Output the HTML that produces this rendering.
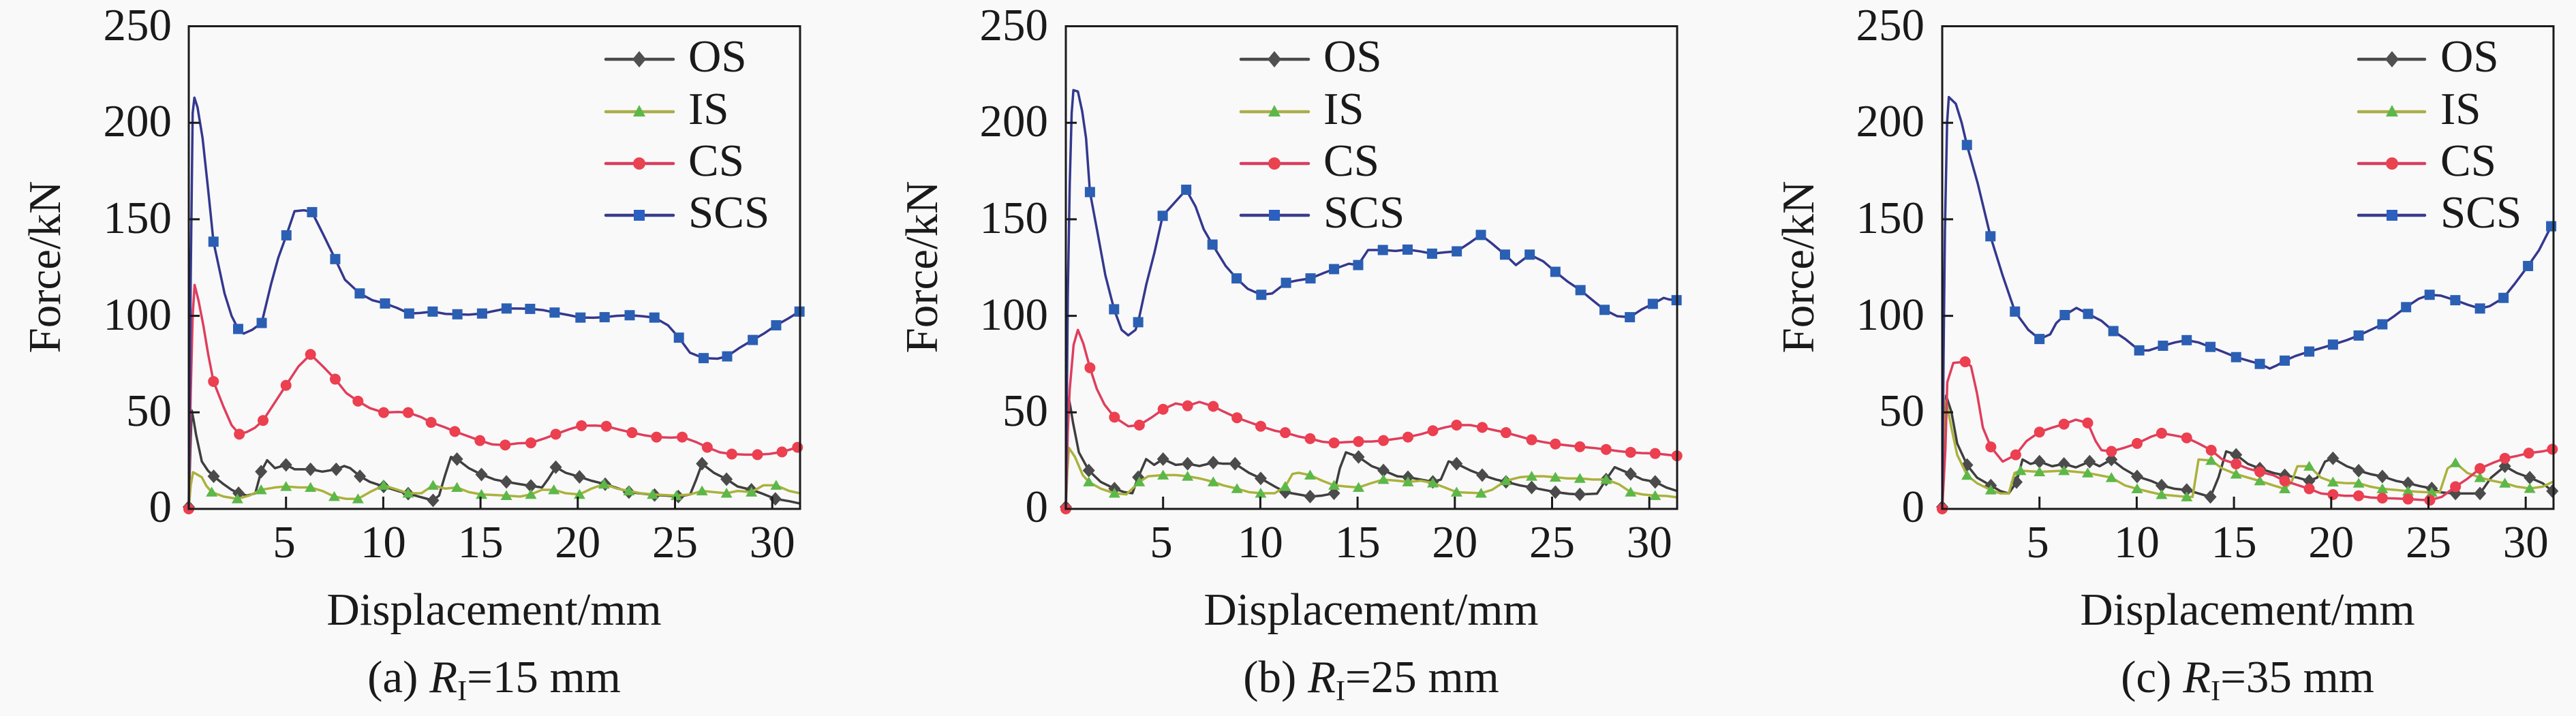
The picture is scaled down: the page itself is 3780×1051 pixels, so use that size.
<!DOCTYPE html>
<html><head><meta charset="utf-8"><style>
html,body{margin:0;padding:0;background:#f9f9f9;}
svg{display:block;}
text{font-family:"Liberation Serif","Times New Roman",serif;fill:#1a1a1a;}
.s{vector-effect:non-scaling-stroke;fill:none;stroke-width:3.5;stroke-linejoin:round;stroke-linecap:round;}
.m{fill:none;stroke:none;}
.os{stroke:#3e3e3e;} .is{stroke:#aab23c;} .cs{stroke:#df3e5c;} .scs{stroke:#34388e;}
.mo{marker-start:url(#mD);marker-mid:url(#mD);marker-end:url(#mD);}
.mi{marker-start:url(#mT);marker-mid:url(#mT);marker-end:url(#mT);}
.mc{marker-start:url(#mC);marker-mid:url(#mC);marker-end:url(#mC);}
.ms{marker-start:url(#mS);marker-mid:url(#mS);marker-end:url(#mS);}
</style></head><body>
<svg width="3780" height="1051" viewBox="0 0 3780 1051" xmlns="http://www.w3.org/2000/svg">
<defs>
<marker id="mD" viewBox="-10 -10 20 20" markerUnits="userSpaceOnUse" markerWidth="0.7008" markerHeight="7.057" refX="0" refY="0" preserveAspectRatio="none"><path d="M0,10 L9,0 L0,-10 L-9,0Z" fill="#4b4b4b"/></marker>
<marker id="mT" viewBox="-10 -10 20 20" markerUnits="userSpaceOnUse" markerWidth="0.7008" markerHeight="7.057" refX="0" refY="0" preserveAspectRatio="none"><path d="M0,8 L8.5,-6.5 L-8.5,-6.5Z" fill="#5cb848"/></marker>
<marker id="mC" viewBox="-10 -10 20 20" markerUnits="userSpaceOnUse" markerWidth="0.7008" markerHeight="7.057" refX="0" refY="0" preserveAspectRatio="none"><circle r="8" fill="#ec3f4f"/></marker>
<marker id="mS" viewBox="-10 -10 20 20" markerUnits="userSpaceOnUse" markerWidth="0.7008" markerHeight="7.057" refX="0" refY="0" preserveAspectRatio="none"><rect x="-7.5" y="-7.5" width="15" height="15" fill="#2b5fb4"/></marker>
</defs>
<rect width="3780" height="1051" fill="#f9f9f9"/>

<!-- ================= PANEL A ================= -->
<g transform="translate(277,747) scale(28.54,-2.834)">
<polyline class="s os" points="0,0 0.08,30 0.15,51 0.25,46 0.37,38.7 0.67,24.6 0.98,19.9 1.28,16.9 1.79,12.8 2.2,9.9 2.56,8.1 3.0,6.9 3.42,8.1 3.72,19.3 4.03,25.2 4.43,21.1 5.0,22.8 5.45,20.5 6.26,20.5 6.87,19.3 7.58,20.5 7.99,22.2 8.3,21.1 8.8,16.9 9.31,14.0 10.02,11.6 10.74,9.3 11.28,7.9 11.96,6.0 12.56,4.4 12.87,6.9 13.18,17.5 13.48,26.9 13.79,25.8 14.4,21.1 15.05,17.8 15.72,15.2 16.33,14.0 17.04,12.8 17.59,11.9 18.16,11.1 18.46,15.2 18.87,21.6 19.38,18.7 20.09,16.6 20.7,14.6 21.41,12.8 22.12,10.5 22.63,8.7 23.34,7.9 23.95,7.2 24.56,6.9 25.17,6.4 25.78,7.5 26.09,15.2 26.39,23.4 27.0,18.7 27.65,15.4 28.22,11.6 28.93,9.9 29.44,8.1 30.16,5.2 30.87,4.0 31.42,2.8"/>
<polyline class="m mo" points="0,1 1.28,16.9 2.56,8.1 3.72,19.3 5.0,22.8 6.26,20.5 7.58,20.5 8.8,16.9 10.02,11.6 11.28,7.9 12.56,4.4 13.79,25.8 15.05,17.8 16.33,14.0 17.59,11.9 18.87,21.6 20.09,16.6 21.41,12.8 22.63,8.7 23.95,7.2 25.17,6.4 26.39,23.4 27.65,15.4 28.93,9.9 30.16,5.2"/>
<polyline class="s is" points="0,0 0.1,12 0.22,19 0.4,18 0.67,16.4 0.9,12 1.18,8.7 1.79,6.4 2.5,5.2 3.11,6.9 3.72,9.9 4.43,11.1 5.0,11.6 5.65,11.1 6.26,11.1 6.87,9.3 7.48,6.4 8.09,5.2 8.7,5.2 9.31,8.7 10.02,12.2 10.74,9.9 11.28,8.1 11.96,8.1 12.56,12.2 13.18,10.5 13.79,11.1 14.4,8.7 15.05,7.5 15.72,7.2 16.33,6.9 17.04,6.4 17.59,7.5 18.16,9.9 18.77,9.9 19.38,8.1 20.09,7.5 20.7,10.5 21.35,12.8 22.02,10.5 22.63,9.3 23.24,8.1 23.85,7.5 24.46,7.2 25.07,6.9 25.78,7.5 26.39,9.3 27.0,8.7 27.65,8.1 28.22,9.3 28.93,8.7 29.54,12.2 30.2,12.2 30.87,9.3 31.42,8.1"/>
<polyline class="m mi" points="1.18,8.7 2.5,5.2 3.72,9.9 5.0,11.6 6.26,11.1 7.48,6.4 8.7,5.2 10.02,12.2 11.28,8.1 12.56,12.2 13.79,11.1 15.05,7.5 16.33,6.9 17.59,7.5 18.77,9.9 20.09,7.5 21.35,12.8 22.63,9.3 23.85,7.5 25.07,6.9 26.39,9.3 27.65,8.1 28.93,8.7 30.2,12.2"/>
<polyline class="s cs" points="0,0 0.1,60 0.2,100 0.3,116 0.5,108 0.75,95 1.0,80 1.27,66 1.79,52.8 2.2,43.4 2.6,38.7 3.0,39.9 3.4,42 3.82,45.8 4.43,55.2 5.0,64 5.64,73.8 6.26,80 6.9,73.8 7.53,67.2 8.1,60 8.70,55.8 9.31,52.2 10.02,49.9 10.74,50.2 11.28,49.9 11.96,47.5 12.46,44.8 13.18,42.2 13.68,40.1 14.4,37.5 14.97,35.4 15.6,33.4 16.27,33.1 16.94,34.0 17.59,34.2 18.26,36.4 18.87,38.7 19.58,41.3 20.19,43.1 20.9,43.2 21.47,42.8 22.12,41.1 22.79,39.5 23.44,38.1 24.05,37.2 24.77,36.9 25.37,37.2 26.09,34.6 26.66,31.9 27.31,29.3 27.92,28.4 28.63,28.1 29.24,28.1 29.85,28.5 30.5,29.5 31.3,31.9"/>
<polyline class="m mc" points="0,0 1.27,66 2.6,38.7 3.82,45.8 5.0,64 6.26,80 7.53,67.2 8.70,55.8 10.02,49.9 11.28,49.9 12.46,44.8 13.68,40.1 14.97,35.4 16.27,33.1 17.59,34.2 18.87,38.7 20.19,43.1 21.47,42.8 22.79,39.5 24.05,37.2 25.37,37.2 26.66,31.9 27.92,28.4 29.24,28.1 30.5,29.5 31.3,31.9"/>
<polyline class="s scs" points="0,0 0.1,120 0.2,205 0.29,213 0.45,208 0.71,192 1.0,165 1.27,138.4 1.84,111.6 2.2,100 2.54,93.2 2.82,90.8 3.25,92.7 3.75,96.3 4.23,116.4 4.6,130 5.02,141.7 5.44,154.2 5.92,154.7 6.34,153.7 6.9,142.4 7.53,129.4 8.03,118.7 8.79,111.6 9.44,108.1 10.09,106.4 10.71,104.1 11.33,101.2 11.9,101.5 12.54,102.2 13.2,101 13.81,100.8 14.4,100.6 15.08,101.2 15.7,102.5 16.34,103.8 16.9,103.8 17.55,103.6 18.2,103 18.81,101.7 19.58,100.3 20.14,99.1 20.8,99 21.38,99.3 22.0,100 22.67,100.3 23.3,99.8 23.94,99.1 24.64,95.1 25.2,88.7 25.77,80.9 26.47,78.1 27.18,77.8 27.68,79.0 28.3,83.3 29.0,87.5 29.6,91 30.2,95.1 30.8,98.5 31.4,102.2"/>
<polyline class="m ms" points="1.27,138.4 2.54,93.2 3.75,96.3 5.02,141.7 6.34,153.7 7.53,129.4 8.79,111.6 10.09,106.4 11.33,101.2 12.54,102.2 13.81,100.8 15.08,101.2 16.34,103.8 17.55,103.6 18.81,101.7 20.14,99.1 21.38,99.3 22.67,100.3 23.94,99.1 25.2,88.7 26.47,78.1 27.68,79.0 29.0,87.5 30.2,95.1 31.4,102.2"/>
</g>

<!-- ================= PANEL B ================= -->
<g transform="translate(1564,747) scale(28.54,-2.834)">
<polyline class="s os" points="0,0 0.07,35 0.15,57.5 0.25,52 0.37,44.6 0.67,29.3 1.18,19.9 1.79,14.0 2.5,10.5 3.0,8.7 3.42,8.1 3.72,16.4 4.13,25.8 4.54,22.8 5.0,25.8 5.65,22.8 6.26,23.4 6.87,22.2 7.58,24 8.09,23.4 8.7,23.4 9.41,18.7 10.02,15.8 10.74,11.6 11.28,8.7 11.96,7.5 12.56,6.4 13.18,6.9 13.79,8.1 14.09,21.1 14.4,29.3 15.05,26.9 15.72,22.2 16.33,19.9 17.04,16.9 17.59,16.4 18.26,15.2 18.87,14.0 19.28,15.2 19.68,24.6 20.09,23.4 20.8,19.9 21.41,17.5 22.12,15.2 22.63,14.0 23.34,12.2 23.95,11.1 24.56,9.9 25.17,8.7 25.88,7.8 26.43,7.5 27.31,7.9 27.78,15.2 28.22,21.6 29.04,18.1 29.65,15.2 30.3,14.0 30.87,11.1 31.42,9.3"/>
<polyline class="m mo" points="0,1 1.18,19.9 2.5,10.5 3.72,16.4 5.0,25.8 6.26,23.4 7.58,24 8.7,23.4 10.02,15.8 11.28,8.7 12.56,6.4 13.79,8.1 15.05,26.9 16.33,19.9 17.59,16.4 18.87,14.0 20.09,23.4 21.41,17.5 22.63,14.0 23.95,11.1 25.17,8.7 26.43,7.5 27.78,15.2 29.04,18.1 30.3,14.0"/>
<polyline class="s is" points="0,0 0.08,20 0.16,31.6 0.47,26.9 0.87,17.5 1.18,14 1.79,10.5 2.5,8.1 3.11,7.5 3.78,14.0 4.23,16.9 5.0,17.5 5.65,17.5 6.26,16.9 6.87,15.8 7.58,14.0 8.09,12.2 8.8,10.5 9.41,8.7 10.02,8.1 10.74,8.1 11.28,11.6 11.65,18.1 11.96,18.7 12.56,17.5 13.18,14.6 13.79,12.2 14.4,11.6 15.05,11.1 15.72,13.4 16.33,15.2 17.04,14.6 17.59,14.0 18.26,14.6 18.87,13.4 19.48,11.1 20.09,8.7 20.7,8.4 21.35,8.1 21.92,9.9 22.63,14.6 23.34,16.4 23.95,16.9 24.56,16.9 25.17,16.4 25.78,15.8 26.43,15.8 27.1,15.2 27.78,15.2 28.43,12.8 29.04,8.7 29.65,7.5 30.3,6.9 30.87,6.7 31.42,6.0"/>
<polyline class="m mi" points="1.18,14 2.5,8.1 3.78,14.0 5.0,17.5 6.26,16.9 7.58,14.0 8.8,10.5 10.02,8.1 11.28,11.6 12.56,17.5 13.79,12.2 15.05,11.1 16.33,15.2 17.59,14.0 18.87,13.4 20.09,8.7 21.35,8.1 22.63,14.6 23.95,16.9 25.17,16.4 26.43,15.8 27.78,15.2 29.04,8.7 30.3,6.9"/>
<polyline class="s cs" points="0,0 0.1,40 0.2,62 0.4,85 0.62,92.7 0.9,85.6 1.24,73.1 1.59,62.2 1.99,54 2.5,47.5 3.21,42.8 3.78,43.4 4.43,47.5 5.0,51.6 5.65,54.6 6.26,53.4 6.87,55.4 7.58,53.1 8.09,50.5 8.8,47.2 9.52,44.6 10.02,42.8 10.74,40.5 11.28,39.5 11.96,37.5 12.56,36.4 13.18,34.8 13.79,34.2 14.4,34.6 15.05,34.9 15.72,34.9 16.33,35.4 17.04,36.4 17.59,37.2 18.26,38.7 18.87,40.5 19.48,42.2 20.09,43.4 20.8,43.4 21.41,42.2 22.02,40.8 22.63,39.5 23.34,37.5 23.95,35.8 24.56,34.6 25.17,33.6 25.88,32.8 26.43,32.2 27.1,31.6 27.78,30.8 28.43,29.9 29.04,29.3 29.65,28.9 30.3,28.7 30.87,28.1 31.42,27.5"/>
<polyline class="m mc" points="0,0 1.24,73.1 2.5,47.5 3.78,43.4 5.0,51.6 6.26,53.4 7.58,53.1 8.8,47.2 10.02,42.8 11.28,39.5 12.56,36.4 13.79,34.2 15.05,34.9 16.33,35.4 17.59,37.2 18.87,40.5 20.09,43.4 21.41,42.2 22.63,39.5 23.95,35.8 25.17,33.6 26.43,32.2 27.78,30.8 29.04,29.3 30.3,28.7 31.42,27.5"/>
<polyline class="s scs" points="0,0 0.1,110 0.2,168 0.3,205 0.39,216.9 0.62,216.2 0.84,206 1.04,192 1.24,164.1 1.6,144.7 2.03,121.1 2.48,103.4 2.87,92.7 3.21,89.9 3.58,92.7 3.72,96.7 4.14,116.4 4.56,132.9 4.98,151.8 5.41,156.6 5.83,161.3 6.19,165.3 6.67,156.6 7.09,144.8 7.54,136.9 8.22,125.8 8.78,119.4 9.35,114 10.05,110.9 10.61,111.6 11.32,117.1 11.88,118.3 12.58,119.4 13.29,122.3 13.79,124.2 14.55,127 15.03,126.3 15.54,134.1 16.3,134.1 16.95,133.6 17.57,134.3 18.21,133.4 18.83,132.2 19.48,132.9 20.1,133.4 20.75,137.7 21.34,141.9 21.88,137.7 22.58,131.7 23.14,126.3 23.85,131.7 24.55,128.2 25.17,122.8 25.82,117.6 26.46,113.3 27.08,108.1 27.7,103.1 28.35,99.8 29.0,99.3 29.62,103.4 30.18,106.2 30.74,109.3 31.0,108.5 31.4,108.1"/>
<polyline class="m ms" points="1.24,164.1 2.48,103.4 3.72,96.7 4.98,151.8 6.19,165.3 7.54,136.9 8.78,119.4 10.05,110.9 11.32,117.1 12.58,119.4 13.79,124.2 15.03,126.3 16.3,134.1 17.57,134.3 18.83,132.2 20.1,133.4 21.34,141.9 22.58,131.7 23.85,131.7 25.17,122.8 26.46,113.3 27.7,103.1 29.0,99.3 30.18,106.2 31.4,108.1"/>
</g>

<!-- ================= PANEL C ================= -->
<g transform="translate(2850,747) scale(28.54,-2.834)">
<polyline class="s os" points="0,0 0.1,40 0.2,58.6 0.47,50.4 0.77,33.9 1.28,22.7 1.79,16.2 2.5,12.1 3.0,9.2 3.42,8.0 3.82,13.9 4.13,25.6 4.54,23.3 5.0,24.5 5.65,22.1 6.26,23.3 6.87,21.5 7.58,24.5 8.09,22.1 8.7,25.6 9.31,20.9 10.02,16.8 10.74,14.5 11.28,12.1 11.96,10.4 12.57,9.8 13.18,8.0 13.79,6.2 14.2,16.2 14.6,29.8 15.11,28.0 15.72,23.3 16.33,20.9 17.04,18.6 17.61,17.4 18.26,16.2 18.87,14.5 19.28,16.2 19.68,24.5 20.09,26.2 20.8,22.1 21.41,19.8 22.02,18.0 22.63,16.8 23.34,14.5 23.95,13.3 24.56,11.8 25.17,10.6 25.58,8.6 26.39,8.0 27.1,8.0 27.65,8.0 28.22,16.2 28.93,22.1 29.54,18.6 30.21,16.2 30.87,13.3 31.37,9.2"/>
<polyline class="m mo" points="0,1 1.28,22.7 2.5,12.1 3.82,13.9 5.0,24.5 6.26,23.3 7.58,24.5 8.7,25.6 10.02,16.8 11.28,12.1 12.57,9.8 13.79,6.2 15.11,28.0 16.33,20.9 17.61,17.4 18.87,14.5 20.09,26.2 21.41,19.8 22.63,16.8 23.95,13.3 25.17,10.6 26.39,8.0 27.65,8.0 28.93,22.1 30.21,16.2 31.37,9.2"/>
<polyline class="s is" points="0,0 0.1,35 0.2,56.2 0.47,42.1 0.77,28.0 1.28,17.4 1.79,13.3 2.5,9.8 3.0,8.0 3.42,8.0 3.72,18.6 4.03,19.8 5.0,19.2 6.26,19.8 7.48,18.6 8.09,17.4 8.7,16.2 9.41,12.1 10.02,10.4 10.74,8.6 11.28,7.4 11.96,6.8 12.57,6.2 12.87,6.2 13.18,25.6 13.83,25.1 14.4,20.9 15.11,18.0 15.72,16.2 16.33,14.5 17.04,12.1 17.61,10.4 17.96,13.9 18.26,22.1 18.87,22.1 19.48,16.2 20.09,13.9 20.8,13.3 21.41,13.3 22.02,11.5 22.63,10.4 23.34,9.8 23.95,9.2 24.56,8.8 25.17,8.6 25.58,8.6 25.98,20.9 26.39,23.9 27.0,18.6 27.65,16.2 28.33,14.5 28.93,13.3 29.54,11.5 30.21,10.6 30.87,11.5 31.37,13.9"/>
<polyline class="m mi" points="1.28,17.4 2.5,9.8 4.03,19.8 5.0,19.2 6.26,19.8 7.48,18.6 8.7,16.2 10.02,10.4 11.28,7.4 12.57,6.2 13.83,25.1 15.11,18.0 16.33,14.5 17.61,10.4 18.87,22.1 20.09,13.9 21.41,13.3 22.63,10.4 23.95,9.2 25.17,8.6 26.39,23.9 27.65,16.2 28.93,13.3 30.21,10.6"/>
<polyline class="s cs" points="0,0 0.16,30.4 0.26,65.6 0.57,75.6 1.18,76.2 1.48,73.9 1.79,59.8 2.09,42.1 2.5,32.1 3.11,24.5 3.78,28.0 4.33,35.1 5.0,39.8 5.65,42.1 6.26,43.9 6.87,46.2 7.48,44.5 7.89,35.1 8.19,30.4 8.7,29.8 9.31,31.5 10.02,33.9 10.74,37.4 11.28,39.2 11.96,38 12.57,36.8 13.18,33.9 13.83,30.4 14.4,25.6 15.11,23.3 15.72,20.9 16.33,19.2 17.04,17.4 17.61,14.5 18.16,12.7 18.87,10.4 19.48,8.0 20.09,7.4 20.7,6.8 21.41,6.8 22.02,5.9 22.63,5.6 23.34,5.4 23.95,5.1 24.56,4.7 25.07,4.5 25.68,6.2 26.39,11.5 27.0,15.6 27.65,20.9 28.33,23.9 28.93,26.2 29.54,27.4 30.16,28.9 30.87,29.8 31.37,30.9"/>
<polyline class="m mc" points="0,0 1.18,76.2 2.5,32.1 3.78,28.0 5.0,39.8 6.26,43.9 7.48,44.5 8.7,29.8 10.02,33.9 11.28,39.2 12.57,36.8 13.83,30.4 15.11,23.3 16.33,19.2 17.61,14.5 18.87,10.4 20.09,7.4 21.41,6.8 22.63,5.6 23.95,5.1 25.07,4.5 26.39,11.5 27.65,20.9 28.93,26.2 30.16,28.9 31.37,30.9"/>
<polyline class="s scs" points="0,0 0.07,80 0.14,144.7 0.25,200 0.34,213.3 0.7,209.8 1.0,200 1.27,188.5 1.83,168.4 2.48,141.2 3.1,121.1 3.74,102.2 4.43,92.7 5.0,88 5.55,90.4 5.86,96.2 6.3,100.4 6.9,104.1 7.5,101 8.19,97.4 8.8,92.1 9.41,88 10.13,82.1 10.63,82.1 11.35,84.5 11.96,86.2 12.57,87.4 13.18,86.2 13.79,83.9 14.4,81.5 15.11,78.6 15.72,76.8 16.33,75.1 16.84,72.7 17.24,74.5 17.61,76.8 18.16,79.2 18.87,81.5 19.48,83.3 20.09,85.1 20.8,87.4 21.41,89.8 22.02,92.7 22.63,95.6 23.23,99.8 23.85,104.5 24.49,108.8 25.06,110.9 25.62,110.5 26.38,108.1 27.03,105.7 27.65,103.8 28.15,105 28.86,109.3 29.42,116.4 30.12,125.8 30.69,134.1 31.31,146.4"/>
<polyline class="m ms" points="1.27,188.5 2.48,141.2 3.74,102.2 5.0,88 6.3,100.4 7.5,101 8.8,92.1 10.13,82.1 11.35,84.5 12.57,87.4 13.79,83.9 15.11,78.6 16.33,75.1 17.61,76.8 18.87,81.5 20.09,85.1 21.41,89.8 22.63,95.6 23.85,104.5 25.06,110.9 26.38,108.1 27.65,103.8 28.86,109.3 30.12,125.8 31.31,146.4"/>
</g>

<!-- ================= FRAMES, TICKS, LABELS ================= -->
<g fill="none" stroke="#1a1a1a" stroke-width="3">
<rect x="277" y="38.5" width="897" height="708.5"/>
<rect x="1564" y="38.5" width="897" height="708.5"/>
<rect x="2850" y="38.5" width="897" height="708.5"/>
<path d="M419.7,747v-18M562.4,747v-18M705.1,747v-18M847.8,747v-18M990.5,747v-18M1133.2,747v-18
M277,605.3h16M277,463.6h16M277,321.9h16M277,180.2h16
M1706.7,747v-18M1849.4,747v-18M1992.1,747v-18M2134.8,747v-18M2277.5,747v-18M2420.2,747v-18
M1564,605.3h16M1564,463.6h16M1564,321.9h16M1564,180.2h16
M2992.7,747v-18M3135.4,747v-18M3278.1,747v-18M3420.8,747v-18M3563.5,747v-18M3706.2,747v-18
M2850,605.3h16M2850,463.6h16M2850,321.9h16M2850,180.2h16"/>
</g>

<g font-size="67" text-anchor="end">
<text x="252" y="59">250</text><text x="252" y="200">200</text><text x="252" y="342">150</text><text x="252" y="484">100</text><text x="252" y="625">50</text><text x="252" y="766">0</text>
<text x="1538" y="59">250</text><text x="1538" y="200">200</text><text x="1538" y="342">150</text><text x="1538" y="484">100</text><text x="1538" y="625">50</text><text x="1538" y="766">0</text>
<text x="2824" y="59">250</text><text x="2824" y="200">200</text><text x="2824" y="342">150</text><text x="2824" y="484">100</text><text x="2824" y="625">50</text><text x="2824" y="766">0</text>
</g>
<g font-size="67" text-anchor="middle">
<text x="417" y="818">5</text><text x="562.4" y="818">10</text><text x="705.1" y="818">15</text><text x="847.8" y="818">20</text><text x="990.5" y="818">25</text><text x="1133.2" y="818">30</text>
<text x="1704" y="818">5</text><text x="1849.4" y="818">10</text><text x="1992.1" y="818">15</text><text x="2134.8" y="818">20</text><text x="2277.5" y="818">25</text><text x="2420.2" y="818">30</text>
<text x="2990" y="818">5</text><text x="3135.4" y="818">10</text><text x="3278.1" y="818">15</text><text x="3420.8" y="818">20</text><text x="3563.5" y="818">25</text><text x="3706.2" y="818">30</text>

<text x="725" y="917">Displacement/mm</text>
<text x="2012" y="917">Displacement/mm</text>
<text x="3298" y="917">Displacement/mm</text>

<text x="88" y="392" transform="rotate(-90 88 392)">Force/kN</text>
<text x="1375" y="392" transform="rotate(-90 1375 392)">Force/kN</text>
<text x="2661" y="392" transform="rotate(-90 2661 392)">Force/kN</text>

<text x="725" y="1016">(a) <tspan font-style="italic">R</tspan><tspan font-size="42" dy="12">I</tspan><tspan dy="-12">=15 mm</tspan></text>
<text x="2012" y="1016">(b) <tspan font-style="italic">R</tspan><tspan font-size="42" dy="12">I</tspan><tspan dy="-12">=25 mm</tspan></text>
<text x="3298" y="1016">(c) <tspan font-style="italic">R</tspan><tspan font-size="42" dy="12">I</tspan><tspan dy="-12">=35 mm</tspan></text>
</g>

<!-- ================= LEGENDS ================= -->
<g id="legA">
<g stroke-width="4.5" stroke-linecap="round">
<line x1="889" y1="87" x2="988" y2="87" stroke="#4a4a4a"/>
<line x1="889" y1="164" x2="988" y2="164" stroke="#a9ae4a"/>
<line x1="889" y1="240" x2="988" y2="240" stroke="#d83d5f"/>
<line x1="889" y1="316" x2="988" y2="316" stroke="#3a3d8c"/>
</g>
<path d="M938,75 L948,87 L938,99 L928,87Z" fill="#505050"/>
<path d="M938,154 L947,171 L929,171Z" fill="#5cb848"/>
<circle cx="938" cy="240" r="9" fill="#ea4350"/>
<rect x="930" y="308" width="16" height="16" fill="#2b5fc0"/>
<g font-size="67"><text x="1010" y="105">OS</text><text x="1010" y="182">IS</text><text x="1010" y="258">CS</text><text x="1010" y="334">SCS</text></g>
</g>
<g>
<g stroke-width="4.5" stroke-linecap="round">
<line x1="1821" y1="87" x2="1920" y2="87" stroke="#4a4a4a"/>
<line x1="1821" y1="164" x2="1920" y2="164" stroke="#a9ae4a"/>
<line x1="1821" y1="240" x2="1920" y2="240" stroke="#d83d5f"/>
<line x1="1821" y1="316" x2="1920" y2="316" stroke="#3a3d8c"/>
</g>
<path d="M1870,75 L1880,87 L1870,99 L1860,87Z" fill="#505050"/>
<path d="M1870,154 L1879,171 L1861,171Z" fill="#5cb848"/>
<circle cx="1870" cy="240" r="9" fill="#ea4350"/>
<rect x="1862" y="308" width="16" height="16" fill="#2b5fc0"/>
<g font-size="67"><text x="1942" y="105">OS</text><text x="1942" y="182">IS</text><text x="1942" y="258">CS</text><text x="1942" y="334">SCS</text></g>
</g>
<g>
<g stroke-width="4.5" stroke-linecap="round">
<line x1="3461" y1="87" x2="3558" y2="87" stroke="#4a4a4a"/>
<line x1="3461" y1="164" x2="3558" y2="164" stroke="#a9ae4a"/>
<line x1="3461" y1="240" x2="3558" y2="240" stroke="#d83d5f"/>
<line x1="3461" y1="316" x2="3558" y2="316" stroke="#3a3d8c"/>
</g>
<path d="M3510,75 L3520,87 L3510,99 L3500,87Z" fill="#505050"/>
<path d="M3510,154 L3519,171 L3501,171Z" fill="#5cb848"/>
<circle cx="3510" cy="240" r="9" fill="#ea4350"/>
<rect x="3502" y="308" width="16" height="16" fill="#2b5fc0"/>
<g font-size="67"><text x="3581" y="105">OS</text><text x="3581" y="182">IS</text><text x="3581" y="258">CS</text><text x="3581" y="334">SCS</text></g>
</g>
</svg>
</body></html>
